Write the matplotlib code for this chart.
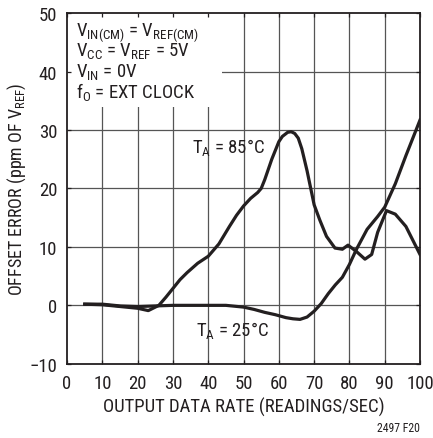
import matplotlib.pyplot as plt
from matplotlib.patches import Rectangle

# offset error vs output data rate
rate_85 = [5, 10, 15, 20, 23, 26, 28, 30, 32, 34, 37, 40, 43, 46, 48, 50, 52, 54,
           55, 56, 58, 60, 61, 62.5, 63.5, 64.5, 65.5, 66.5, 68, 70, 71.6, 73.5,
           75.9, 78, 79.6, 82, 84.4, 86.3, 88, 90.5, 93, 96, 100]
err_85 = [0.2, 0.1, -0.2, -0.5, -0.9, 0.0, 1.4, 2.9, 4.4, 5.6, 7.2, 8.4, 10.5, 13.5,
          15.4, 17.0, 18.3, 19.3, 20.0, 21.5, 25.0, 28.0, 28.9, 29.6, 29.7, 29.4,
          28.6, 26.8, 23.0, 17.2, 14.6, 11.8, 9.8, 9.6, 10.3, 9.2, 7.9, 8.7, 12.5,
          16.2, 15.6, 13.5, 8.7]

rate_25 = [5, 10, 15, 20, 25, 30, 35, 40, 45, 50, 53, 56, 59, 62, 64, 66, 68, 70,
           72, 74, 76, 78, 80, 82, 85, 88, 90, 93, 96, 100]
err_25 = [0.2, 0.2, -0.1, -0.2, -0.1, 0.0, 0.0, 0.0, 0.0, -0.3, -0.7, -1.2, -1.6,
          -2.1, -2.3, -2.4, -2.0, -1.0, 0.3, 2.0, 3.5, 4.8, 7.0, 9.6, 13.0, 15.2,
          16.8, 20.8, 25.6, 31.7]

xticks = list(range(0, 101, 10))
yticks = list(range(-10, 51, 10))

fam = ['Roboto Condensed', 'Barlow Semi Condensed', 'DejaVu Sans']
plt.rcParams['font.family'] = fam
plt.rcParams['mathtext.fontset'] = 'custom'
plt.rcParams['mathtext.rm'] = 'Barlow Semi Condensed'

ink = '#231f20'
fig = plt.figure(figsize=(4.33, 4.39), dpi=100)
ax = fig.add_axes([0.155, 0.169, 0.815, 0.799])

# grid drawn by hand so the white note box can sit over it
ax.vlines(xticks[1:-1], -10, 50, color='#555555', lw=0.9, zorder=1)
ax.hlines(yticks[1:-1], 0, 100, color='#555555', lw=0.9, zorder=1)
ax.add_patch(Rectangle((0, 34), 44, 16, facecolor='white', edgecolor='none', zorder=1.5))

ax.plot(rate_85, err_85, color=ink, lw=2.3, zorder=3, solid_joinstyle='round')
ax.plot(rate_25, err_25, color=ink, lw=2.3, zorder=3, solid_joinstyle='round')

ax.set_xlim(0, 100)
ax.set_ylim(-10, 50)
ax.set_xticks(xticks)
ax.set_yticks(yticks)
ax.tick_params(direction='in', length=3, width=0.9, top=True, right=True,
               labelsize=13.5, pad=7, colors=ink)
for s in ax.spines.values():
    s.set_linewidth(1.3)
    s.set_color(ink)

ax.set_xlabel('OUTPUT DATA RATE (READINGS/SEC)', fontsize=13.5, labelpad=4, color=ink)
ax.set_ylabel(r'OFFSET ERROR (ppm OF V$_{\mathregular{REF}}$)', fontsize=13, color=ink)
ax.yaxis.set_label_coords(-0.11, 0.5)

note = [r'V$_{\mathregular{IN(CM)}}$ = V$_{\mathregular{REF(CM)}}$',
        r'V$_{\mathregular{CC}}$ = V$_{\mathregular{REF}}$ = 5V',
        r'V$_{\mathregular{IN}}$ = 0V',
        r'f$_{\mathregular{O}}$ = EXT CLOCK']
for i, line in enumerate(note):
    ax.text(2.5, 46.9 - i * 3.45, line, fontsize=13.5, va='center', ha='left',
            color=ink, zorder=4)

ax.text(35.5, 27.0, r'T$_{\mathregular{A}}$ = 85°C', fontsize=13.5, va='center',
        ha='left', color=ink, zorder=4)
ax.text(36.5, -4.2, r'T$_{\mathregular{A}}$ = 25°C', fontsize=13.5, va='center',
        ha='left', color=ink, zorder=4)

fig.text(0.97, 0.008, '2497 F20', fontsize=8.5, ha='right', va='bottom', color=ink)

fig.savefig('out.png', dpi=100)
